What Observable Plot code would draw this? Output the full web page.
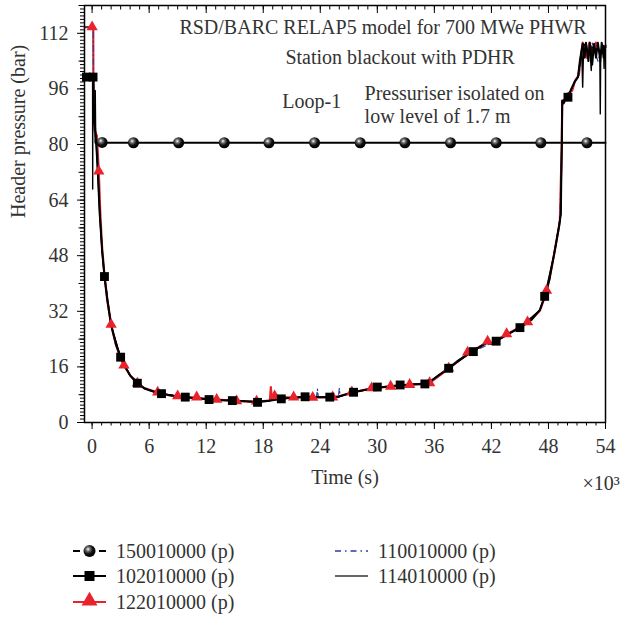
<!DOCTYPE html>
<html><head><meta charset="utf-8">
<script src="https://cdn.jsdelivr.net/npm/d3@7"></script>
<script src="https://cdn.jsdelivr.net/npm/@observablehq/plot@0.6"></script>
<style>
body{margin:0;background:#fff;}
#chart svg,#legend svg{display:block;}
</style>
</head><body><div id="chart"></div><div id="legend"></div>
<script>
// Time in units of 10^3 s, pressure in bar
const xTicks = [0, 6, 12, 18, 24, 30, 36, 42, 48, 54];
const yTicks = [0, 16, 32, 48, 64, 80, 96, 112];

const seriesNames = ["150010000 (p)", "102010000 (p)", "122010000 (p)", "110010000 (p)", "114010000 (p)"];

// 150010000 (p): line and ball markers
const s150Line = [[0.3, 95.5], [0.35, 80.5], [54, 80.5]];
const s150Marks = [[1.05, 80.6], [4.35, 80.5], [9.1, 80.5], [13.9, 80.5], [18.6, 80.5], [23.4, 80.5], [28.2, 80.5], [32.9, 80.5], [37.7, 80.5], [42.5, 80.5], [47.2, 80.5], [52.05, 80.5]];

// 102010000 (p): black line with squares
const s102Line = [[-0.8, 99.4], [0.15, 99.4], [0.2, 88], [0.4, 82], [0.6, 72], [0.8, 60], [1.05, 49.5], [1.3, 42], [1.6, 35], [2.0, 28], [2.5, 22.5], [3.0, 18.8], [3.5, 15.8], [4.0, 13.5], [4.7, 11.4], [5.5, 9.8], [6.5, 8.8], [7.3, 8.3], [8.5, 7.7], [9.8, 7.3], [11.0, 7.0], [12.3, 6.6], [13.5, 6.4], [14.8, 6.3], [16.0, 6.1], [17.4, 5.9], [18.5, 6.2], [19.9, 6.8], [21.0, 7.1], [22.4, 7.4], [24.0, 7.3], [25.0, 7.3], [25.9, 7.4], [27.3, 8.6], [28.5, 9.3], [30.0, 10.0], [31.4, 10.4], [32.4, 10.7], [33.4, 10.9], [35.0, 11.1], [35.3, 11.3], [36.5, 13.7], [37.5, 15.6], [38.5, 17.8], [40.1, 20.6], [41.2, 22.5], [41.6, 23.0], [42.0, 22.6], [42.5, 23.4], [43.6, 25.2], [45.0, 27.3], [46.2, 29.5], [47.1, 32.4], [47.6, 36.3], [48.1, 41], [48.6, 48.5], [49.1, 56], [49.3, 60], [49.4, 80], [49.45, 92.5], [49.6, 91.8], [49.8, 93.8], [50.05, 93.6], [50.4, 96], [50.75, 98], [51.1, 99.4], [51.3, 104], [51.6, 109], [51.8, 105], [51.95, 109.3], [52.2, 104], [52.35, 109.3], [52.6, 103], [52.8, 109], [53.0, 105], [53.2, 109.3], [53.45, 104], [53.6, 109.3], [53.8, 105], [54.0, 108.5]];
const s102Marks = [[-0.6, 99.4], [0.1, 99.4], [1.3, 42], [3.0, 18.8], [4.76, 11.3], [7.3, 8.3], [9.8, 7.3], [12.3, 6.6], [14.75, 6.3], [17.4, 5.8], [19.9, 6.8], [22.4, 7.4], [25.0, 7.3], [27.5, 8.7], [30.0, 10.2], [32.4, 10.8], [35.0, 11.1], [37.5, 15.6], [40.1, 20.4], [42.5, 23.4], [45.0, 27.3], [47.6, 36.3], [50.05, 93.6]];

// 122010000 (p): red line with triangles
const s122Line = [[-0.8, 113.8], [0.12, 113.8], [0.14, 89], [0.25, 84], [0.5, 82.5], [0.7, 72.5], [0.85, 61], [1.05, 50.5], [1.3, 42.5], [1.6, 35.5], [2.0, 28.2], [2.5, 22.5], [3.0, 18.5], [3.35, 16.5], [4.0, 13.6], [4.76, 11.3], [5.5, 9.9], [6.9, 8.6], [8.0, 7.9], [9.0, 7.5], [11.0, 7.1], [13.1, 6.6], [15.2, 6.2], [17.3, 6.0], [18.7, 6.3], [18.8, 10.2], [18.9, 6.5], [19.2, 7.4], [21.2, 7.2], [23.2, 7.2], [25.3, 7.3], [25.9, 7.5], [27.3, 8.6], [29.4, 9.8], [31.4, 10.4], [33.4, 10.9], [35.3, 11.2], [35.5, 11.4], [37.5, 15.4], [39.5, 19.8], [41.6, 23.2], [42.0, 22.8], [43.6, 25.4], [45.8, 28.6], [47.1, 32.2], [47.8, 37.5], [48.6, 48.5], [49.2, 58], [49.4, 80], [49.45, 92.7], [49.7, 92.3], [49.9, 94.4], [50.5, 95.5], [50.8, 98.4], [51.2, 100], [51.4, 105], [51.6, 109.3], [52.0, 105], [52.3, 109.3], [52.7, 106], [53.0, 109.3], [53.5, 106], [54, 108]];
const s122Marks = [[0.0, 113.8], [0.7, 72.3], [2.0, 28.2], [3.35, 16.5], [4.76, 11.3], [6.9, 8.7], [9.0, 7.6], [11.0, 7.3], [13.1, 6.6], [15.2, 6.2], [17.3, 6.1], [19.2, 7.6], [21.2, 7.3], [23.2, 7.2], [25.3, 7.3], [27.3, 8.7], [29.4, 9.9], [31.4, 10.4], [33.4, 10.9], [35.5, 11.4], [37.5, 15.6], [39.5, 20.2], [41.6, 23.4], [43.6, 25.5], [45.8, 28.9], [47.8, 38.0]];

// 110010000 (p): blue dash-dot
const s110Line = [[-0.8, 113.8], [0.12, 113.8], [0.14, 89], [0.3, 83.5], [0.6, 77], [0.8, 62], [1.05, 50], [1.3, 42.3], [2.0, 28.1], [3.0, 18.7], [4.0, 13.6], [5.5, 9.9], [7.0, 8.5], [9.0, 7.5], [11.0, 7.0], [13.0, 6.6], [15.0, 6.2], [17.3, 6.0], [19.0, 6.5], [21.0, 7.1], [23.6, 7.2], [23.7, 9.6], [23.8, 7.2], [25.9, 7.3], [26.0, 9.8], [26.1, 7.5], [27.3, 8.6], [27.35, 10.2], [27.4, 8.7], [30.0, 10.0], [33.0, 10.8], [35.3, 11.2], [37.5, 15.5], [40.0, 20.4], [42.0, 22.8], [45.0, 27.3], [47.1, 32.3], [47.8, 37.5], [48.6, 48.5], [49.2, 58], [49.4, 80], [49.45, 92.6], [50.0, 93.5], [50.8, 98.2], [51.2, 99.8], [51.6, 109.2], [52.2, 105], [52.6, 109.2], [53.2, 104], [53.7, 108], [54, 106]];

// 114010000 (p): thin solid black
const s114Line = [[-0.8, 99.4], [0.05, 99.4], [0.06, 67.2], [0.08, 99], [0.12, 95], [0.2, 87], [0.4, 82], [0.6, 72], [0.8, 60], [1.05, 49.5], [1.3, 42], [2.0, 28], [3.0, 18.8], [4.0, 13.5], [5.5, 9.8], [7.3, 8.3], [9.8, 7.3], [12.3, 6.6], [14.8, 6.3], [17.4, 5.9], [19.9, 6.8], [22.4, 7.4], [25.0, 7.3], [25.9, 7.4], [27.3, 8.6], [30.0, 10.0], [33.4, 10.9], [35.3, 11.3], [37.5, 15.6], [40.1, 20.6], [41.6, 23.0], [42.0, 22.6], [45.0, 27.3], [47.1, 32.4], [47.6, 36.3], [48.6, 48.5], [49.3, 60], [49.4, 80], [49.45, 92.5], [50.05, 93.6], [50.75, 98], [51.1, 99.4], [51.5, 107], [51.6, 96.5], [51.7, 109], [52.4, 106], [52.5, 101.3], [52.6, 108], [53.4, 107], [53.45, 88.8], [53.5, 107], [53.8, 108.5], [53.85, 101.9], [53.9, 108], [54, 107]];

// Annotations (data coordinates)
const notesCentered = [
  {t: 30.6, p: 113.7, text: "RSD/BARC RELAP5 model for 700 MWe PHWR"},
  {t: 32.4, p: 104.9, text: "Station blackout with PDHR"},
  {t: 23.1, p: 92.3, text: "Loop-1"}
];
const notesLeft = [
  {t: 28.66, p: 94.7, text: "Pressuriser isolated on"},
  {t: 28.66, p: 87.9, text: "low level of 1.7 m"}
];

const RED = "#e8232b", BLUE = "#2b3f9c", BLACK = "#000";
const serif = "'Liberation Serif', 'DejaVu Serif', serif";
const TXT = "#333";
const FS = 20;

const chart = Plot.plot({
  width: 622, height: 500,
  marginLeft: 84, marginRight: 17, marginTop: 5, marginBottom: 78,
  style: {fontFamily: serif, fontSize: FS + "px", color: "#000", background: "#fff", overflow: "visible"},
  x: {domain: [-0.8, 54]},
  y: {domain: [0, 120]},
  marks: [
    Plot.axisY({ticks: d3.range(0, 121, 1), tickSize: 4, text: null, label: null}),
    Plot.axisY({ticks: d3.range(8, 121, 16), tickSize: 5.5, text: null, label: null}),
    Plot.axisY({ticks: yTicks, tickSize: 7, tickPadding: 9, fill: TXT, fontSize: FS, label: null}),
    Plot.axisX({ticks: d3.range(0, 55, 1), tickSize: 3.5, text: null, label: null}),
    Plot.axisX({ticks: xTicks, tickSize: 7, tickPadding: 9, fill: TXT, fontSize: FS, label: null}),
    Plot.axisX({anchor: "top", ticks: d3.range(0, 55, 1), tickSize: 3.5, dy: 3.5, text: null, label: null}),
    Plot.axisX({anchor: "top", ticks: xTicks, tickSize: 7, dy: 7, text: null, label: null}),
    Plot.text(["Time (s)"], {frameAnchor: "bottom", dy: 61, fill: TXT, fontSize: FS}),
    Plot.text(["×10³"], {frameAnchor: "bottom-right", dx: -23, dy: 67, textAnchor: "start", fill: TXT, fontSize: FS}),
    Plot.text(["Header pressure (bar)"], {frameAnchor: "left", rotate: -90, dx: -66, dy: 4, fill: TXT, fontSize: FS}),
    // series lines
    Plot.line(s150Line, {x: d => d[0], y: d => d[1], stroke: BLACK, strokeWidth: 2}),
    Plot.line(s122Line, {x: d => d[0], y: d => d[1], stroke: RED, strokeWidth: 2.2}),
    Plot.line(s110Line, {x: d => d[0], y: d => d[1], stroke: BLUE, strokeWidth: 1.2, strokeDasharray: "6,3,1.5,3"}),
    Plot.line(s102Line, {x: d => d[0], y: d => d[1], stroke: BLACK, strokeWidth: 2}),
    Plot.line(s114Line, {x: d => d[0], y: d => d[1], stroke: BLACK, strokeWidth: 1.4}),
    // markers
    Plot.dot(s122Marks, {x: d => d[0], y: d => d[1], symbol: "triangle", r: 4.2, fill: RED, stroke: "none"}),
    Plot.dot(s102Marks, {x: d => d[0], y: d => d[1], symbol: "square", r: 5, fill: BLACK, stroke: "none"}),
    Plot.dot(s150Marks, {x: d => d[0], y: d => d[1], r: 5.5, fill: "url(#ballGrad)", stroke: "none"}),
    // annotations
    Plot.text(notesCentered, {x: "t", y: "p", text: "text", textAnchor: "middle", fill: TXT, fontSize: FS}),
    Plot.text(notesLeft, {x: "t", y: "p", text: "text", textAnchor: "start", fill: TXT, fontSize: FS}),
    Plot.frame({stroke: "#000", strokeWidth: 1.5})
  ]
});

d3.select(chart).insert("defs", ":first-child").html(
  '<radialGradient id="ballGrad" cx="0.38" cy="0.35" r="0.65">' +
  '<stop offset="0" stop-color="#ffffff"/><stop offset="0.25" stop-color="#777"/>' +
  '<stop offset="0.6" stop-color="#111"/><stop offset="1" stop-color="#000"/></radialGradient>');
document.getElementById("chart").appendChild(chart);

// Legend below the plot
const legendItems = [
  {name: seriesNames[0], col: 0, row: 0, kind: "ball"},
  {name: seriesNames[1], col: 0, row: 1, kind: "square"},
  {name: seriesNames[2], col: 0, row: 2, kind: "triangle"},
  {name: seriesNames[3], col: 1, row: 0, kind: "dashdot"},
  {name: seriesNames[4], col: 1, row: 1, kind: "solid"}
];
const lg = d3.select("#legend").append("svg").attr("width", 622).attr("height", 117)
  .style("font-family", serif).style("font-size", FS + "px");
lg.append("defs").html(
  '<radialGradient id="ballGrad2" cx="0.38" cy="0.35" r="0.65">' +
  '<stop offset="0" stop-color="#ffffff"/><stop offset="0.25" stop-color="#777"/>' +
  '<stop offset="0.6" stop-color="#111"/><stop offset="1" stop-color="#000"/></radialGradient>');
const colX = [73, 335], rowY = [51, 76, 102];
legendItems.forEach(it => {
  const x0 = colX[it.col], y = rowY[it.row], x1 = x0 + 33, cx = x0 + 16.5;
  const g = lg.append("g");
  if (it.kind === "ball") {
    g.append("line").attr("x1", x0).attr("x2", x0 + 7).attr("y1", y).attr("y2", y).attr("stroke", "#000").attr("stroke-width", 2);
    g.append("line").attr("x1", x1 - 7).attr("x2", x1).attr("y1", y).attr("y2", y).attr("stroke", "#000").attr("stroke-width", 2);
    g.append("circle").attr("cx", cx).attr("cy", y).attr("r", 6).attr("fill", "url(#ballGrad2)");
  } else if (it.kind === "square") {
    g.append("line").attr("x1", x0).attr("x2", x1).attr("y1", y).attr("y2", y).attr("stroke", "#000").attr("stroke-width", 2);
    g.append("rect").attr("x", cx - 5).attr("y", y - 5).attr("width", 10).attr("height", 10).attr("fill", "#000");
  } else if (it.kind === "triangle") {
    g.append("line").attr("x1", x0).attr("x2", x1).attr("y1", y).attr("y2", y).attr("stroke", RED).attr("stroke-width", 2);
    g.append("path").attr("d", d3.symbol(d3.symbolTriangle, 110)()).attr("transform", `translate(${cx},${y - 1})`).attr("fill", RED);
  } else if (it.kind === "dashdot") {
    g.append("line").attr("x1", x0).attr("x2", x1).attr("y1", y).attr("y2", y).attr("stroke", BLUE).attr("stroke-width", 1.3).attr("stroke-dasharray", "6,4,1.5,4");
  } else {
    g.append("line").attr("x1", x0).attr("x2", x1).attr("y1", y).attr("y2", y).attr("stroke", "#333").attr("stroke-width", 1.6);
  }
  g.append("text").attr("x", x0 + 43).attr("y", y).attr("dy", "0.35em").attr("fill", TXT).text(it.name);
});
</script>
</body></html>
